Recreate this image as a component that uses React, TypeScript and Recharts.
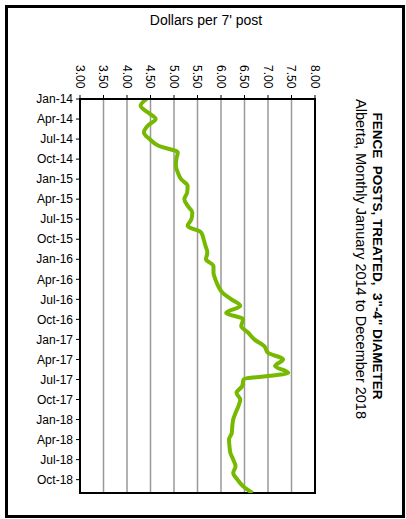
import React from 'react';
import { LineChart, Line, XAxis, YAxis, CartesianGrid, ReferenceArea } from 'recharts';

const tickMonths = [
  'Jan-14', 'Apr-14', 'Jul-14', 'Oct-14',
  'Jan-15', 'Apr-15', 'Jul-15', 'Oct-15',
  'Jan-16', 'Apr-16', 'Jul-16', 'Oct-16',
  'Jan-17', 'Apr-17', 'Jul-17', 'Oct-17',
  'Jan-18', 'Apr-18', 'Jul-18', 'Oct-18',
];

const priceTicks = [3, 3.5, 4, 4.5, 5, 5.5, 6, 6.5, 7, 7.5, 8];

// monthly price, Jan 2014 .. Dec 2018
const prices = [
  4.42, 4.29, 4.44, 4.61, 4.44, 4.36, 4.48, 4.67, 5.08, 5.05, 5.04, 5.08,
  5.15, 5.29, 5.28, 5.22, 5.29, 5.39, 5.37, 5.29, 5.58, 5.63, 5.67, 5.71,
  5.68, 5.84, 5.84, 5.88, 5.94, 6.03, 6.22, 6.41, 6.11, 6.47, 6.43, 6.58,
  6.71, 6.92, 7.0, 7.32, 7.15, 7.43, 6.48, 6.45, 6.33, 6.41, 6.37, 6.31,
  6.26, 6.24, 6.23, 6.17, 6.18, 6.2, 6.26, 6.31, 6.26, 6.35, 6.47, 6.67,
];

const data = prices.map((price, idx) => ({ idx, price }));
const monthTicks = tickMonths.map((_, k) => k * 3);

const font = '"Liberation Sans", Arial, sans-serif';

function PriceTick({ x, payload }: any) {
  return (
    <text
      x={x}
      y={65}
      dy="0.35em"
      transform={`rotate(90, ${x}, 65)`}
      textAnchor="start"
      fontSize={12}
      fontFamily={font}
      fill="#000"
    >
      {Number(payload.value).toFixed(2)}
    </text>
  );
}

function MonthTick({ x, y, payload }: any) {
  return (
    <text x={x - 1} y={y} dy="0.35em" textAnchor="end" fontSize={12} fontFamily={font} fill="#000">
      {tickMonths[payload.value / 3]}
    </text>
  );
}

export default function App() {
  return (
    <div style={{ position: 'absolute', left: 0, top: 0, width: 406, height: 519, background: '#fff' }}>
      <div
        style={{
          position: 'absolute',
          left: 5,
          top: 5,
          width: 400,
          height: 513,
          border: '3px solid #000',
          boxSizing: 'border-box',
        }}
      />
      <div style={{ position: 'absolute', left: 0, top: 0 }}>
        <LineChart
          width={406}
          height={519}
          data={data}
          layout="vertical"
          margin={{ top: 65, right: 91, bottom: 26, left: 20 }}
        >
          <CartesianGrid horizontal={false} stroke="#999" strokeWidth={1.5} />
          <XAxis
            type="number"
            dataKey="price"
            orientation="top"
            domain={[3, 8]}
            ticks={priceTicks}
            interval={0}
            height={34}
            tick={<PriceTick />}
            tickSize={4}
            axisLine={{ stroke: '#000', strokeWidth: 2 }}
            tickLine={{ stroke: '#000' }}
            allowDataOverflow
          />
          <YAxis
            type="number"
            dataKey="idx"
            domain={[0, 59]}
            ticks={monthTicks}
            interval={0}
            width={60}
            tick={<MonthTick />}
            tickSize={4}
            axisLine={{ stroke: '#000', strokeWidth: 2 }}
            tickLine={{ stroke: '#000' }}
            allowDataOverflow
          />
          <ReferenceArea x1={3} x2={8} y1={0} y2={59} fill="none" stroke="#000" strokeWidth={2} ifOverflow="visible" />
          <Line
            dataKey="price"
            type="monotone"
            stroke="#76B900"
            strokeWidth={4}
            dot={false}
            isAnimationActive={false}
          />
        </LineChart>
      </div>
      <svg width={406} height={519} style={{ position: 'absolute', left: 0, top: 0, pointerEvents: 'none' }}>
        <text x={206} y={20} dy="0.35em" textAnchor="middle" fontSize={14} fontFamily={font} fill="#000">
          Dollars per 7' post
        </text>
        <g transform="rotate(90, 378, 256)">
          <text x={378} y={256} dy="0.35em" textAnchor="middle" fontSize={13.5} fontWeight="bold" fontFamily={font} fill="#000" xmlSpace="preserve">
            {'FENCE  POSTS, TREATED,  3"-4" DIAMETER'}
          </text>
        </g>
        <g transform="rotate(90, 361, 259)">
          <text x={361} y={259} dy="0.35em" textAnchor="middle" fontSize={14.5} fontFamily={font} fill="#000">
            Alberta, Monthly January 2014 to December 2018
          </text>
        </g>
      </svg>
    </div>
  );
}
